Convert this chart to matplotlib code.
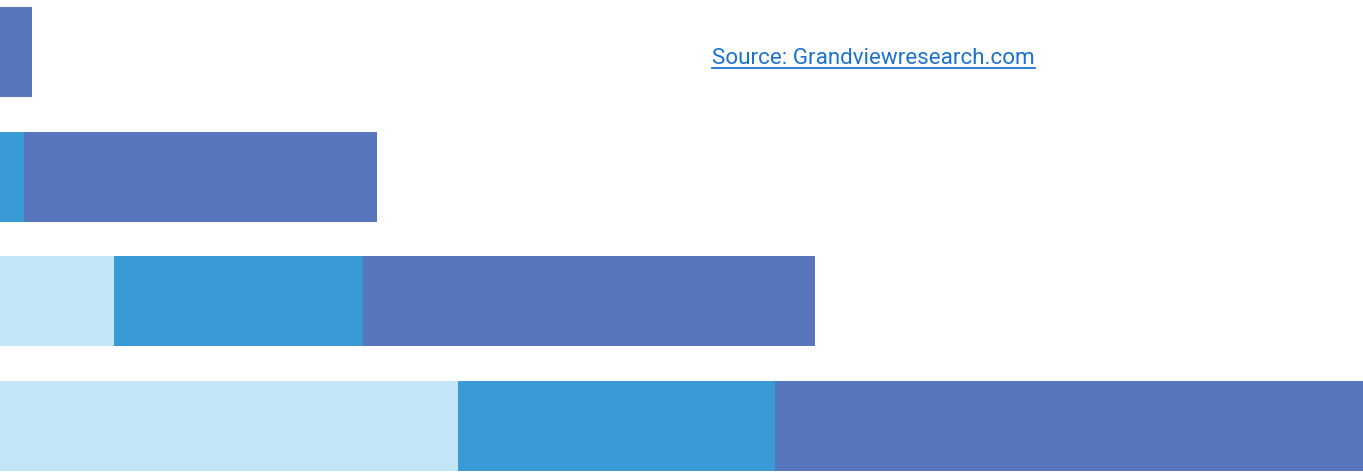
import numpy as np
import matplotlib.pyplot as plt
from matplotlib.lines import Line2D

plt.rcParams['font.family'] = ['Roboto', 'DejaVu Sans']

# Stacked segments per row (top to bottom)
rows = ['2019', '2020', '2021', '2022']
light = [0, 0, 114, 458]
mid = [0, 24, 249, 317]
dark = [32, 353, 452, 588]
colors = ['#C2E6F8', '#3A9AD6', '#5876BD']

fig = plt.figure(figsize=(13.63, 4.76), dpi=100)
ax = fig.add_axes([0, 0, 1, 1])

y = np.arange(len(rows))
left = np.zeros(len(rows))
for vals, c in zip([light, mid, dark], colors):
    ax.barh(y, vals, left=left, height=0.722, color=c, linewidth=0)
    left += np.array(vals)

ax.set_xlim(0, 1363)
ax.set_ylim(3.401, -0.417)
ax.axis('off')

# Source link with underline
txt = fig.text(712 / 1363, 1 - 58 / 476, 'Source: Grandviewresearch.com',
               color='#1A73D0', fontsize=16.1, va='center', ha='left')
fig.canvas.draw()
bb = txt.get_window_extent().transformed(fig.transFigure.inverted())
uy = 1 - 67.5 / 476
fig.add_artist(Line2D([bb.x0, bb.x1], [uy, uy], transform=fig.transFigure,
                      color='#1A73D0', linewidth=1.3))

fig.savefig('out.png', dpi=100)
